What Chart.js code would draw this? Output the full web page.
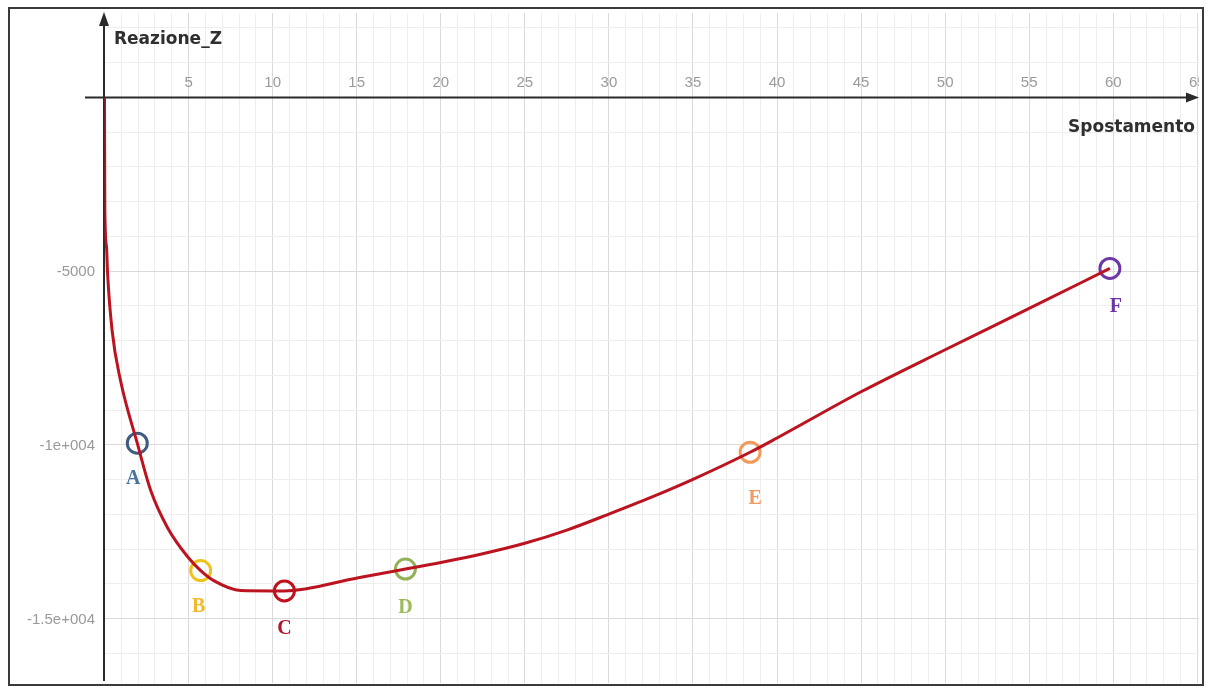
<!DOCTYPE html>
<html>
<head>
<meta charset="utf-8">
<script src="https://cdn.jsdelivr.net/npm/chart.js@4/dist/chart.umd.min.js"></script>
<style>
  html, body { margin: 0; padding: 0; background: #ffffff; }
  #wrap { width: 1208px; height: 688px; }
</style>
</head>
<body>
<div id="wrap"><canvas id="c" width="1208" height="688"></canvas></div>
<script>
// Spostamento (x) vs Reazione_Z (y) curve
const displacement = [0, 0.02, 0.12, 0.18, 0.45, 0.95, 1.95, 2.75, 3.75, 4.98, 5.72, 6.5, 8.1, 10.0, 10.7,
  15.1, 17.9, 20.0, 22.5, 25.0, 27.5, 30.0, 32.5, 35.0, 38.4, 40.0, 45.0, 50.0, 55.0, 59.8];
const reaction = [0, -3200, -4300, -5030, -6700, -8140, -9950, -11310, -12380, -13240, -13616, -13905, -14190, -14200, -14200,
  -13820, -13570, -13380, -13130, -12830, -12450, -11990, -11510, -10990, -10210, -9800, -8470, -7260, -6070, -4920];

// Highlighted states along the curve
const markerNames = ['A', 'B', 'C', 'D', 'E', 'F'];
const markerX = [1.95, 5.72, 10.7, 17.9, 38.4, 59.8];
const markerY = [-9950, -13616, -14200, -13570, -10210, -4920];

// Axis tick labels
const xTickValues = [5, 10, 15, 20, 25, 30, 35, 40, 45, 50, 55, 60, 65];
const yTickValues = [-5000, -10000, -15000];
const yTickLabels = ['-5000', '-1e+004', '-1.5e+004'];

const markerColors = ['#3e5c82', '#f0c21c', '#c0101c', '#92b257', '#f19a5c', '#6e37a6'];
const labelColors  = ['#4a72a0', '#f2b92a', '#b8102a', '#9bbb59', '#f09a62', '#6a35a0'];
const labelOffsets = [[-4, 36], [-2, 36], [0, 38], [0, 39], [5, 47], [6, 38]];

const AXIS_COLOR = '#2a2a2a';
const TEXT_COLOR = '#2f2f2f';
const MAJOR_GRID = '#dadada';
const MINOR_GRID = '#eeeeee';

// one grid line per unit step; every fifth is a major line
function stepTicks(step) {
  return scale => {
    const ticks = [];
    const first = Math.ceil(scale.min / step), last = Math.floor(scale.max / step);
    for (let k = first; k <= last; k++) ticks.push({ value: k * step });
    scale.ticks = ticks;
  };
}
function gridColor(step) {
  return ctx => {
    const k = Math.round(ctx.tick.value / step);
    if (k === 0) return 'rgba(0,0,0,0)';
    return k % 5 === 0 ? MAJOR_GRID : MINOR_GRID;
  };
}

const decorations = {
  id: 'decorations',
  beforeDatasetsDraw(chart) {
    const ctx = chart.ctx;
    const xs = chart.scales.x, ys = chart.scales.y;
    const x0 = xs.getPixelForValue(0) - 0.5;
    const y0 = ys.getPixelForValue(0);
    ctx.save();
    ctx.strokeStyle = AXIS_COLOR;
    ctx.fillStyle = AXIS_COLOR;
    ctx.lineWidth = 2;
    // vertical axis with arrow
    ctx.beginPath();
    ctx.moveTo(x0, 24);
    ctx.lineTo(x0, 681);
    ctx.stroke();
    ctx.beginPath();
    ctx.moveTo(x0, 12);
    ctx.lineTo(x0 - 5, 26);
    ctx.lineTo(x0 + 5, 26);
    ctx.closePath();
    ctx.fill();
    // horizontal axis with arrow
    ctx.beginPath();
    ctx.moveTo(85, y0);
    ctx.lineTo(1188, y0);
    ctx.stroke();
    ctx.beginPath();
    ctx.moveTo(1199, y0);
    ctx.lineTo(1186, y0 - 5);
    ctx.lineTo(1186, y0 + 5);
    ctx.closePath();
    ctx.fill();
    ctx.restore();
  },
  afterDraw(chart) {
    const ctx = chart.ctx;
    const xs = chart.scales.x, ys = chart.scales.y;
    const y0 = ys.getPixelForValue(0);
    ctx.save();
    // tick labels
    ctx.fillStyle = '#9a9a9a';
    ctx.font = '15px "Liberation Sans", Arial, sans-serif';
    ctx.textBaseline = 'middle';
    ctx.save();
    ctx.beginPath();
    ctx.rect(0, 0, 1199, 688);
    ctx.clip();
    ctx.textAlign = 'center';
    xTickValues.forEach(v => ctx.fillText(String(v), xs.getPixelForValue(v), y0 - 15));
    ctx.restore();
    ctx.textAlign = 'right';
    yTickValues.forEach((v, i) => ctx.fillText(yTickLabels[i], 95, ys.getPixelForValue(v) + 1));

    // axis titles
    ctx.fillStyle = TEXT_COLOR;
    ctx.font = 'bold 17px "DejaVu Sans", sans-serif';
    ctx.textBaseline = 'alphabetic';
    ctx.textAlign = 'left';
    ctx.fillText('Reazione_Z', 114, 44);
    ctx.textAlign = 'right';
    ctx.fillText('Spostamento', 1195, 132);

    // marker letters
    const meta = chart.getDatasetMeta(1);
    ctx.font = 'bold 20px "Liberation Serif", "Times New Roman", serif';
    ctx.textAlign = 'center';
    ctx.textBaseline = 'middle';
    meta.data.forEach((pt, i) => {
      ctx.fillStyle = labelColors[i];
      ctx.fillText(markerNames[i], pt.x + labelOffsets[i][0], pt.y + labelOffsets[i][1]);
    });

    // outer frame
    ctx.strokeStyle = '#3a3a3a';
    ctx.lineWidth = 2;
    ctx.strokeRect(9, 8, 1194, 677);
    ctx.restore();
  }
};

new Chart(document.getElementById('c'), {
  type: 'scatter',
  data: {
    datasets: [
      {
        label: 'Reazione_Z',
        data: displacement.map((x, i) => ({ x, y: reaction[i] })),
        showLine: true,
        borderColor: '#bb1420',
        borderWidth: 3,
        pointRadius: 0,
        cubicInterpolationMode: 'monotone',
        order: 0
      },
      {
        label: 'punti',
        data: markerX.map((x, i) => ({ x, y: markerY[i] })),
        showLine: false,
        pointRadius: 10,
        pointBorderWidth: 3,
        pointBackgroundColor: 'rgba(0,0,0,0)',
        pointBorderColor: markerColors,
        order: 1
      }
    ]
  },
  options: {
    responsive: false,
    animation: false,
    devicePixelRatio: 1,
    layout: { autoPadding: false, padding: { left: 104.5, right: 9, top: 13, bottom: 5 } },
    plugins: { legend: { display: false }, tooltip: { enabled: false } },
    scales: {
      x: {
        type: 'linear',
        min: 0,
        max: 65.1,
        afterBuildTicks: stepTicks(1),
        afterFit: s => { s.height = 0; },
        ticks: { display: false },
        border: { display: false },
        grid: { drawTicks: false, lineWidth: 1, color: gridColor(1) }
      },
      y: {
        type: 'linear',
        min: -16850,
        max: 2430,
        afterBuildTicks: stepTicks(1000),
        afterFit: s => { s.width = 0; },
        ticks: { display: false },
        border: { display: false },
        grid: { drawTicks: false, lineWidth: 1, color: gridColor(1000) }
      }
    }
  },
  plugins: [decorations]
});
</script>
</body>
</html>
